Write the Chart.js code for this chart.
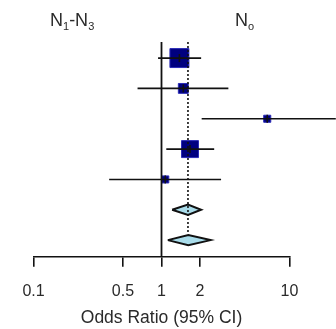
<!DOCTYPE html>
<html>
<head>
<meta charset="utf-8">
<script src="https://cdn.jsdelivr.net/npm/chart.js@4"></script>
<style>
  body { margin: 0; background: #fff; }
  #wrap { position: relative; width: 336px; height: 329px; }
  .grp { position: absolute; top: 10px; font-family: "Liberation Sans", Arial, sans-serif; font-size: 18px; color: #2a2a2a; }
  .grp sub { font-size: 11px; vertical-align: -4px; }
</style>
</head>
<body>
<div id="wrap">
  <canvas id="forest" width="336" height="329"></canvas>
  <div class="grp" style="left:50px">N<sub>1</sub>-N<sub>3</sub></div>
  <div class="grp" style="left:235px">N<sub>o</sub></div>
</div>
<script>
// Individual studies (row 1 = top)
let rows = [1, 2, 3, 4, 5];
let oddsRatio = [1.38, 1.48, 6.7, 1.67, 1.07];
let ciLow = [0.94, 0.65, 2.06, 1.09, 0.39];
let ciHigh = [2.04, 3.33, 23, 2.58, 2.92];
let boxSize = [13.4, 7, 5, 12, 5]; // square marker radius

// Pooled estimates (diamonds)
let pooledRows = [6, 7];
let pooledOR = [1.61, 1.62];
let pooledLow = [1.21, 1.12];
let pooledHigh = [2.04, 2.42];

let tickVals = [0.1, 0.5, 1, 2, 10];

let datasets = [];

// confidence interval lines with a small tick at the estimate
for (let i = 0; i < rows.length; i++) {
  datasets.push({
    type: "line",
    data: [
      { x: ciLow[i], y: rows[i] },
      { x: oddsRatio[i], y: rows[i] },
      { x: ciHigh[i], y: rows[i] }
    ],
    borderColor: "#111",
    borderWidth: 1.6,
    pointRadius: [0, 4, 0],
    pointStyle: "line",
    rotation: 90,
    pointBorderColor: "#111",
    pointBorderWidth: 1.6,
    clip: false,
    order: 0
  });
}

// null line at OR = 1
datasets.push({
  type: "line",
  data: [{ x: 1, y: 0.47 }, { x: 1, y: 7.55 }],
  borderColor: "#111",
  borderWidth: 1.8,
  pointRadius: 0,
  order: 0
});

// dotted line at pooled estimate
datasets.push({
  type: "line",
  data: [{ x: pooledOR[0], y: 0.47 }, { x: pooledOR[0], y: 6.8 }],
  borderColor: "#111",
  borderWidth: 1.6,
  borderDash: [2, 2],
  pointRadius: 0,
  order: 0
});

// squares
datasets.push({
  type: "scatter",
  data: rows.map((r, i) => ({ x: oddsRatio[i], y: r })),
  pointStyle: "rect",
  pointRadius: boxSize,
  backgroundColor: "#00007f",
  borderColor: "#2b2bb8",
  borderWidth: 1,
  order: 1
});

// diamonds
for (let i = 0; i < pooledRows.length; i++) {
  let r = pooledRows[i];
  datasets.push({
    type: "line",
    data: [
      { x: pooledLow[i], y: r },
      { x: pooledOR[i], y: r - 0.17 },
      { x: pooledHigh[i], y: r },
      { x: pooledOR[i], y: r + 0.17 },
      { x: pooledLow[i], y: r }
    ],
    borderColor: "#111",
    borderWidth: 2,
    backgroundColor: "#a9dcea",
    fill: "shape",
    pointRadius: 0,
    tension: 0,
    order: 2
  });
}

let ctx = document.getElementById("forest").getContext("2d");
let forestChart = new Chart(ctx, {
  type: "scatter",
  data: { datasets: datasets },
  options: {
    responsive: false,
    animation: false,
    layout: { padding: { left: 33.5, right: 46.5, top: 42, bottom: 0 } },
    plugins: { legend: { display: false }, tooltip: { enabled: false } },
    scales: {
      x: {
        type: "logarithmic",
        min: 0.1,
        max: 10,
        afterBuildTicks: function(scale) {
          scale.ticks = tickVals.map(v => ({ value: v }));
        },
        ticks: {
          callback: function(v) { return String(v); },
          color: "#2a2a2a",
          padding: 15,
          maxRotation: 0,
          autoSkip: false,
          font: { family: "Liberation Sans", size: 16 }
        },
        grid: {
          drawOnChartArea: false,
          drawTicks: true,
          tickLength: 10,
          color: "#111",
          lineWidth: 1.6
        },
        border: { display: true, color: "#111", width: 1.6 },
        title: {
          display: true,
          text: "Odds Ratio (95% CI)",
          color: "#2a2a2a",
          font: { family: "Liberation Sans", size: 17.5 },
          padding: { top: -8, bottom: 0 }
        }
      },
      y: {
        display: false,
        reverse: true,
        min: 0.47,
        max: 7.55
      }
    }
  }
});
</script>
</body>
</html>
